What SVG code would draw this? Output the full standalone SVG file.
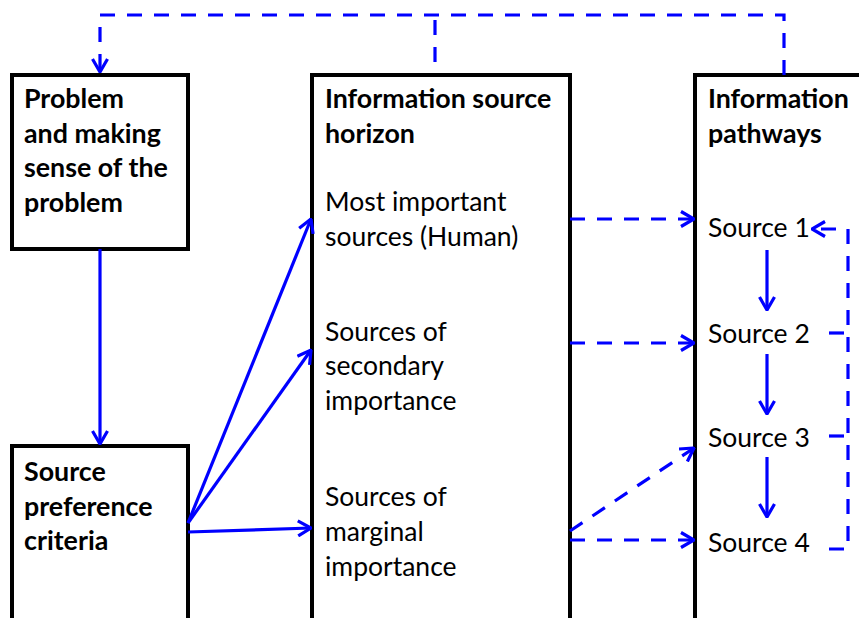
<svg xmlns="http://www.w3.org/2000/svg" width="859" height="618" viewBox="0 0 859 618">
<style>
.box{fill:#fff;stroke:#000;stroke-width:4}
.b{font-family:Lato,"Liberation Sans",sans-serif;font-weight:bold;font-size:26.8px;fill:#000}
.r{font-family:Lato,"Liberation Sans",sans-serif;font-size:26.5px;fill:#000}
.s{fill:none;stroke:#0000ff;stroke-width:3.2}
.d{fill:none;stroke:#0000ff;stroke-width:3.2;stroke-dasharray:15 12}
</style>
<defs>
<marker id="ah" viewBox="0 0 16 18" refX="15" refY="9" markerWidth="16" markerHeight="18" markerUnits="userSpaceOnUse" orient="auto">
<path d="M2,1.5 L15,9 L2,16.5" fill="none" stroke="#0000ff" stroke-width="3.2" stroke-dasharray="none"/>
</marker>
</defs>
<g id="problem">
<rect class="box" x="12" y="75" width="176" height="174"/>
<text class="b" x="24" y="108">Problem</text>
<text class="b" x="24" y="143">and making</text>
<text class="b" x="24" y="177">sense of the</text>
<text class="b" x="24" y="212">problem</text>
</g>
<g id="criteria">
<rect class="box" x="12" y="446" width="176" height="200"/>
<text class="b" x="24" y="481">Source</text>
<text class="b" x="24" y="516">preference</text>
<text class="b" x="24" y="550">criteria</text>
</g>
<g id="horizon">
<rect class="box" x="312" y="75" width="258" height="580"/>
<text class="b" x="325" y="108">Information source</text>
<text class="b" x="325" y="143">horizon</text>
<text class="r" x="325" y="211">Most important</text>
<text class="r" x="325" y="246">sources (Human)</text>
<text class="r" x="325" y="341">Sources of</text>
<text class="r" x="325" y="375">secondary</text>
<text class="r" x="325" y="410">importance</text>
<text class="r" x="325" y="506">Sources of</text>
<text class="r" x="325" y="541">marginal</text>
<text class="r" x="325" y="576">importance</text>
</g>
<g id="pathways">
<rect class="box" x="695" y="75" width="200" height="580"/>
<text class="b" x="708" y="108">Information</text>
<text class="b" x="708" y="143">pathways</text>
<text class="r" x="708" y="237">Source 1</text>
<text class="r" x="708" y="343">Source 2</text>
<text class="r" x="708" y="447">Source 3</text>
<text class="r" x="708" y="552">Source 4</text>
</g>
<g id="connectors">
<path class="d" d="M784,75 V15 H100 V72" marker-end="url(#ah)"/>
<path class="d" d="M435,62 V15"/>
<path class="s" d="M100,249 V444" marker-end="url(#ah)"/>
<path class="s" d="M188,523 L311,219" marker-end="url(#ah)"/>
<path class="s" d="M188,523 L311,350" marker-end="url(#ah)"/>
<path class="s" d="M188,532 L311,528" marker-end="url(#ah)"/>
<path class="d" d="M570,219 H694" marker-end="url(#ah)"/>
<path class="d" d="M570,343 H694" marker-end="url(#ah)"/>
<path class="d" d="M570,540 H694" marker-end="url(#ah)"/>
<path class="d" d="M570,531 L694,448" marker-end="url(#ah)"/>
<path class="s" d="M767,250 V310" marker-end="url(#ah)"/>
<path class="s" d="M767,354 V414" marker-end="url(#ah)"/>
<path class="s" d="M767,457 V517" marker-end="url(#ah)"/>
<path class="d" d="M829,549 H848 V229 H812" marker-end="url(#ah)"/>
<path class="d" d="M829,333 H848"/>
<path class="d" d="M829,436 H848"/>
</g>
</svg>
